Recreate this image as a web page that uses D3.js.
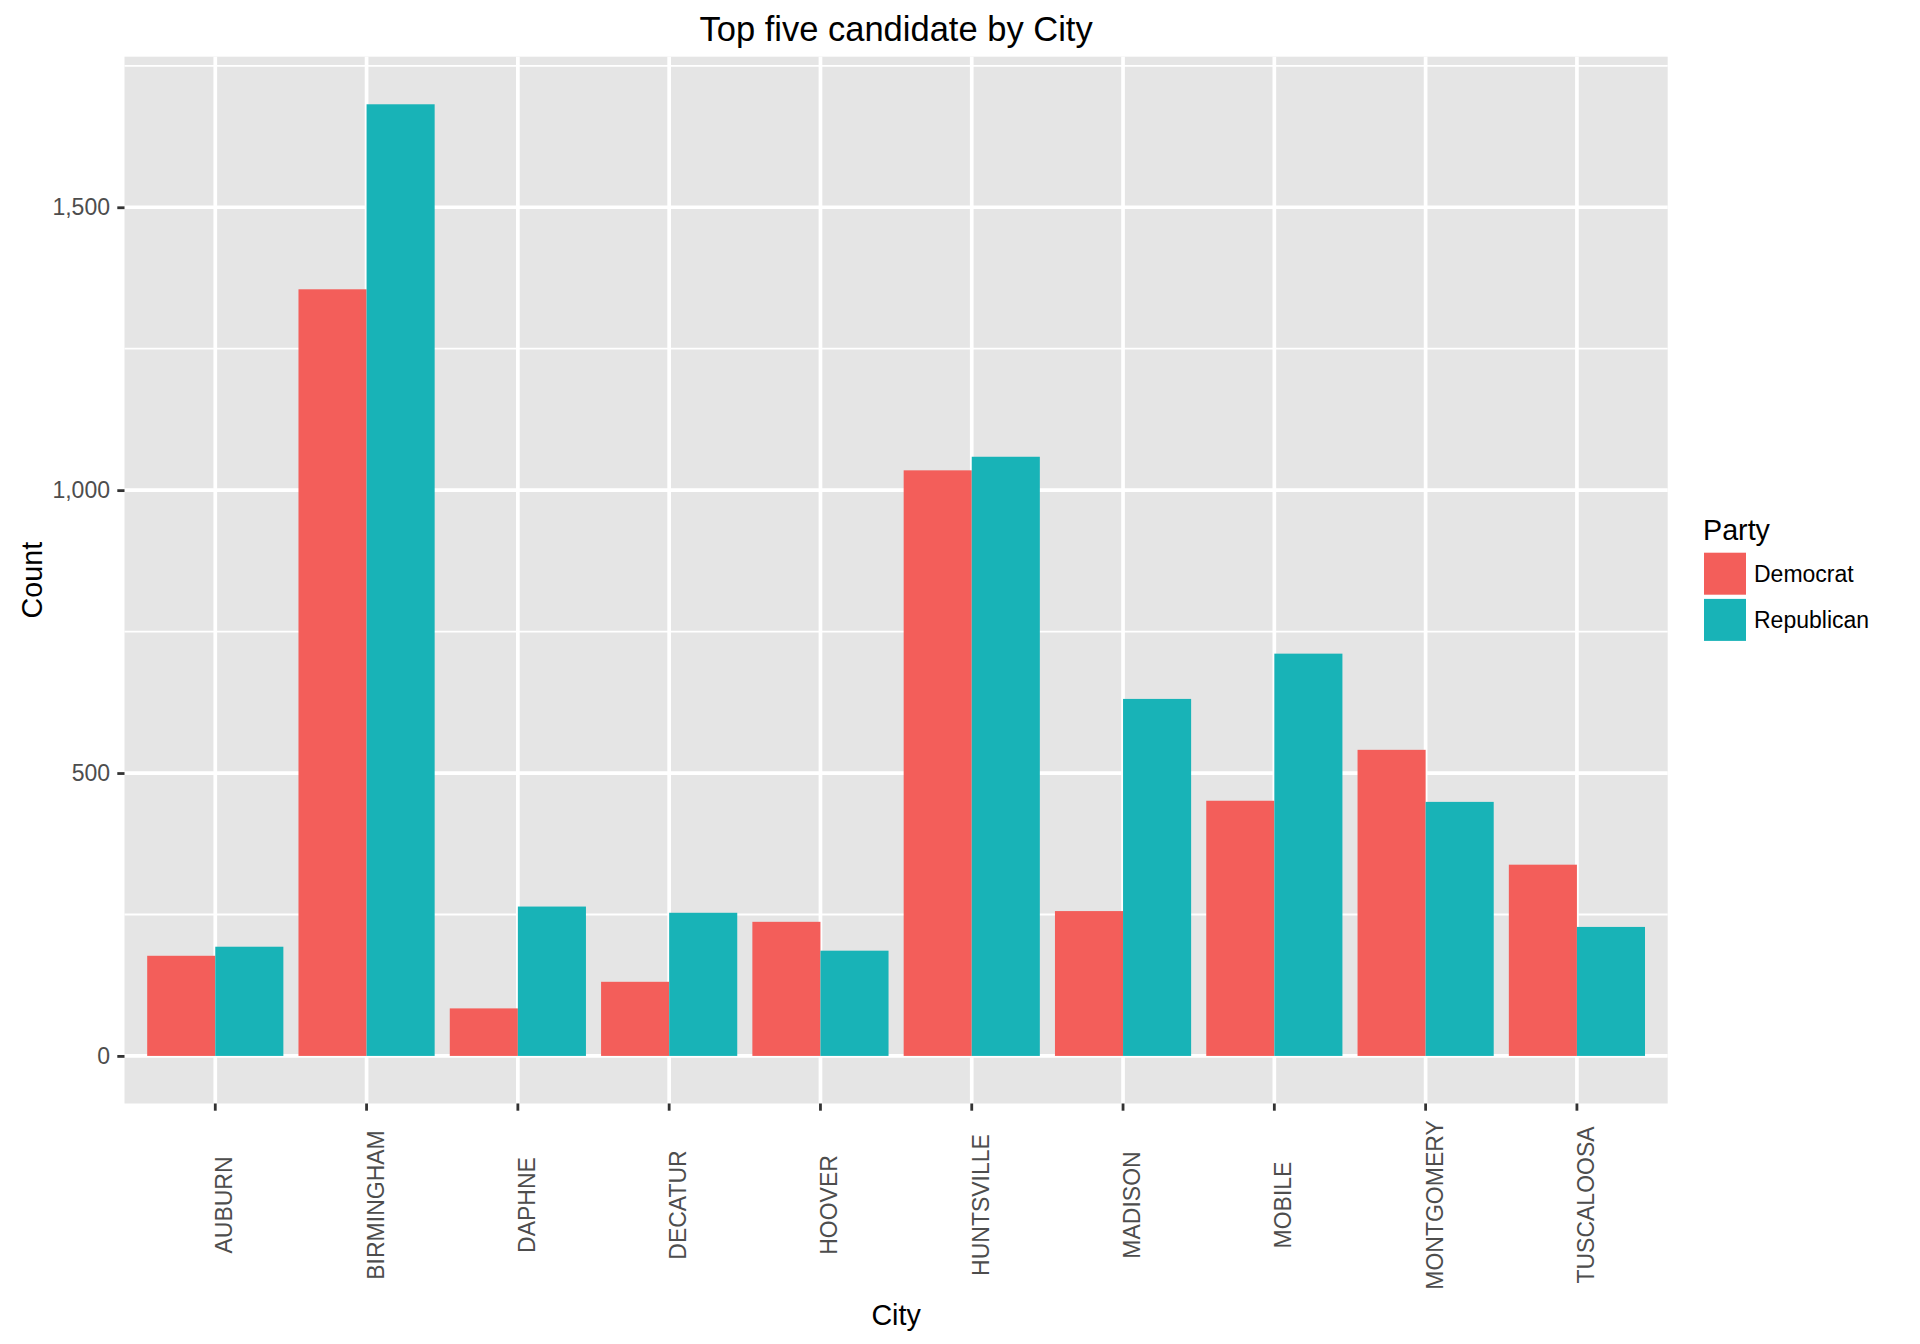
<!DOCTYPE html>
<html><head><meta charset="utf-8">
<script src="https://cdn.jsdelivr.net/npm/d3@7"></script>
<style>
body{margin:0;background:#fff}
text{font-family:"Liberation Sans",Arial,Helvetica,sans-serif}
</style>
</head><body>
<svg id="c" width="1920" height="1344"></svg>
<script>
const cities = ["AUBURN","BIRMINGHAM","DAPHNE","DECATUR","HOOVER","HUNTSVILLE","MADISON","MOBILE","MONTGOMERY","TUSCALOOSA"];
const parties = ["Democrat","Republican"];
const democrat   = [177, 1355, 84, 131, 237, 1035, 256, 451, 541, 338];
const republican = [193, 1682, 264, 253, 186, 1059, 631, 711, 449, 228];
const yTicks = [0, 500, 1000, 1500];
const yMinor = [250, 750, 1250, 1750];
const partyColors = ["#F35E5A", "#18B3B7"];
const titleText = "Top five candidate by City";
const xTitle = "City";
const yTitle = "Count";
const legendTitle = "Party";

const W = 1920, H = 1344;
const P = {left:124.5, right:1667.7, top:56.7, bottom:1103.5};
const svg = d3.select("#c");

const rows = cities.map((c,i)=>({city:c, values:[democrat[i], republican[i]]}));
const maxV = d3.max([...democrat, ...republican]);

const x = d3.scaleBand().domain(cities).range([P.left, P.right]).paddingInner(0.1).paddingOuter(0.15);
const xp = d3.scaleBand().domain(parties).range([0, x.bandwidth()]);
const y = d3.scaleLinear().domain([-0.05*maxV, 1.05*maxV]).range([P.bottom, P.top]);
const color = d3.scaleOrdinal().domain(parties).range(partyColors);

// panel
svg.append("rect").attr("x",P.left).attr("y",P.top).attr("width",P.right-P.left).attr("height",P.bottom-P.top).attr("fill","#E5E5E5");

// minor grid
svg.append("g").selectAll("line").data(yMinor).join("line")
  .attr("x1",P.left).attr("x2",P.right).attr("y1",d=>y(d)).attr("y2",d=>y(d))
  .attr("stroke","#fff").attr("stroke-width",1.85);
// major grid
svg.append("g").selectAll("line").data(yTicks).join("line")
  .attr("x1",P.left).attr("x2",P.right).attr("y1",d=>y(d)).attr("y2",d=>y(d))
  .attr("stroke","#fff").attr("stroke-width",3.7);
svg.append("g").selectAll("line").data(cities).join("line")
  .attr("y1",P.top).attr("y2",P.bottom)
  .attr("x1",d=>x(d)+x.bandwidth()/2).attr("x2",d=>x(d)+x.bandwidth()/2)
  .attr("stroke","#fff").attr("stroke-width",3.7);

// bars
const g = svg.append("g").selectAll("g").data(rows).join("g")
  .attr("transform",d=>`translate(${x(d.city)},0)`);
g.selectAll("rect").data(d=>d.values.map((v,j)=>({party:parties[j], v}))).join("rect")
  .attr("x",d=>xp(d.party)).attr("width",xp.bandwidth())
  .attr("y",d=>y(d.v)).attr("height",d=>y(0)-y(d.v))
  .attr("fill",d=>color(d.party));

// y axis
const ya = svg.append("g").attr("transform",`translate(${P.left},0)`)
  .call(d3.axisLeft(y).tickValues(yTicks).tickFormat(d3.format(",")).tickSize(7.2).tickPadding(7.3));
ya.select(".domain").remove();
ya.selectAll(".tick line").attr("stroke","#333").attr("stroke-width",2.8);
ya.selectAll(".tick text").attr("fill","#4D4D4D").attr("font-size",23).attr("font-family",null);

// x axis
const xa = svg.append("g").attr("transform",`translate(0,${P.bottom})`)
  .call(d3.axisBottom(x).tickSize(7.2));
xa.select(".domain").remove();
xa.selectAll(".tick line").attr("stroke","#333").attr("stroke-width",2.8);
xa.selectAll(".tick text")
  .attr("y",null).attr("dy",null).attr("x",null)
  .attr("transform",`translate(17,${1205-P.bottom}) rotate(-90)`)
  .attr("text-anchor","middle")
  .attr("fill","#4D4D4D").attr("font-size",23).attr("font-family",null);

// titles
svg.append("text").attr("x",(P.left+P.right)/2).attr("y",40.5).attr("text-anchor","middle")
  .attr("font-size",34.5).attr("fill","#000").text(titleText);
svg.append("text").attr("x",(P.left+P.right)/2).attr("y",1325).attr("text-anchor","middle")
  .attr("font-size",28.7).attr("fill","#000").text(xTitle);
svg.append("text").attr("transform",`translate(41.5,${(P.top+P.bottom)/2}) rotate(-90)`).attr("text-anchor","middle")
  .attr("font-size",28.7).attr("fill","#000").text(yTitle);

// legend
const lg = svg.append("g");
lg.append("text").attr("x",1703).attr("y",540).attr("font-size",28.7).attr("fill","#000").text(legendTitle);
const items = lg.selectAll("g").data(parties).join("g")
  .attr("transform",(d,i)=>`translate(1704,${552.7+i*46.2})`);
items.append("rect").attr("width",42).attr("height",42).attr("fill",d=>color(d));
items.append("text").attr("x",50).attr("y",21+8.2).attr("font-size",23).attr("fill","#000").text(d=>d);
</script>
</body></html>
